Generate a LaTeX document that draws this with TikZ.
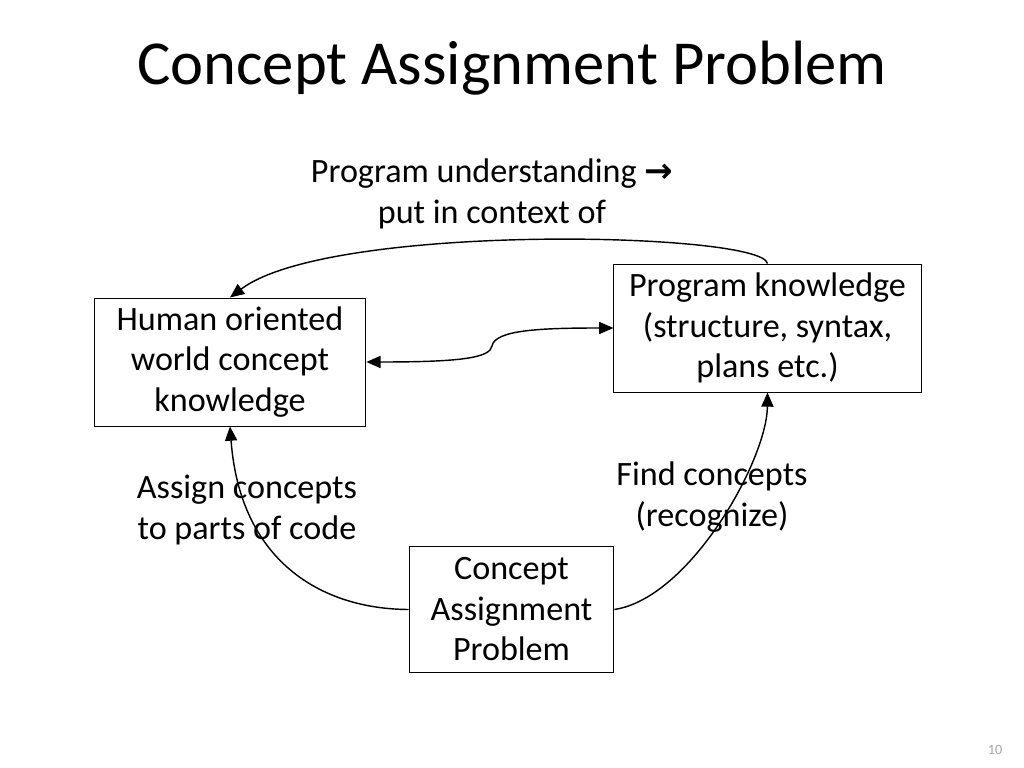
\documentclass[tikz,border=0pt]{standalone}
\usepackage{fontspec}
\setmainfont{Carlito}
\newfontfamily\symfont{DejaVu Sans}
\usetikzlibrary{arrows.meta}
\begin{document}
\begin{tikzpicture}[x=0.703125pt, y=-0.703125pt,
    concept/.style ={draw, line width=0.7pt, align=center, inner sep=0pt,
        font=\fontsize{24}{28.5}\selectfont},
    label/.style ={align=center, font=\fontsize{24}{28.5}\selectfont},
    link/.style ={line width=1pt, -{Triangle[length=10pt, width=8.5pt]}},
    both/.style ={line width=1pt, {Triangle[length=10pt, width=8.5pt]}-{Triangle[length=10pt, width=8.5pt]}}]
   \useasboundingbox (0,0) rectangle (1024,768);
   \node[font=\fontsize{44}{53}\selectfont] (title) at (512,68) {Concept Assignment Problem};

   \node[concept, minimum width=191pt, minimum height=90pt] (human) at (230,362)
       {Human oriented\\world concept\\knowledge};
   \node[concept, minimum width=216pt, minimum height=90pt] (prog) at (767.5,328)
       {Program knowledge\\(structure, syntax,\\plans etc.)};
   \node[concept, minimum width=144pt, minimum height=89pt] (cap) at (511.5,609.5)
       {Concept\\Assignment\\Problem};

   \node[label] (understand) at (492,194)
       {Program understanding {\symfont\bfseries →}\\put in context of};
   \node[label] (assign) at (247,510) {Assign concepts\\to parts of code};
   \node[label] (find) at (712,497) {Find concepts\\(recognize)};
   \node[text=gray!70, font=\fontsize{10}{12}\selectfont] (page) at (995,750) {10};

   \coordinate (kink) at (492,346);

   \draw[link] (prog.north) .. controls (762,232) and (330,222) .. (human.north);
   \draw[both] (human.east)
       .. controls (460,362) and (490,358) .. (kink)
       .. controls (495,330) and (540,328) .. (prog.west);
   \draw[link] (cap.west) .. controls (320,609) and (240,560) .. (human.south);
   \draw[link] (cap.east) .. controls (690,598) and (767,460) .. (prog.south);
 \end{tikzpicture}
\end{document}
